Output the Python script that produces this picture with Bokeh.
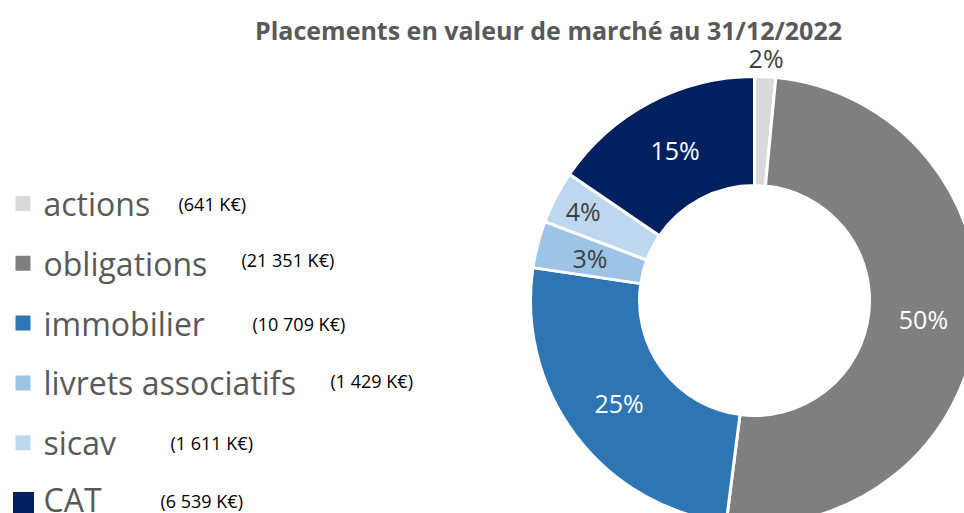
import numpy as np
from bokeh.plotting import figure
from bokeh.models import Range1d, ColumnDataSource
from bokeh.core.properties import value
from bokeh.embed import file_html
from bokeh.resources import INLINE

# ---- data ----
categories = ["actions", "obligations", "immobilier", "livrets associatifs", "sicav", "CAT"]
values_keur = [641, 21351, 10709, 1429, 1611, 6539]
colors = ["#D9D9D9", "#7F7F7F", "#2E75B6", "#9DC3E6", "#BDD7EE", "#002060"]
pct_label_colors = ["#404040", "#FFFFFF", "#FFFFFF", "#404040", "#404040", "#FFFFFF"]
title = "Placements en valeur de marché au 31/12/2022"

FONT = "Open Sans"

# ---- layout (picture pixel coordinates, y downward -> negated) ----
W, H = 964, 513
p = figure(width=W, height=H, output_backend="svg", toolbar_location=None,
           x_range=Range1d(0, W), y_range=Range1d(-H, 0),
           min_border=0, outline_line_color=None)
p.axis.visible = False
p.grid.visible = False
p.background_fill_color = "white"
p.border_fill_color = "white"

cx, cy = 754, -300
r_in, r_out = 115, 224

vals = np.array(values_keur, dtype=float)
frac = vals / vals.sum()
cum = np.concatenate([[0], np.cumsum(frac)])
start = np.pi / 2 - 2 * np.pi * cum[:-1]
end = np.pi / 2 - 2 * np.pi * cum[1:]

src = ColumnDataSource(dict(start=start, end=end, color=colors))
p.annular_wedge(x=cx, y=cy, inner_radius=r_in, outer_radius=r_out,
                start_angle="start", end_angle="end", direction="clock",
                fill_color="color", line_color="white", line_width=3, source=src)

# percentage labels
mid = (start + end) / 2
lab_r = [243, 170, 170, 170, 193, 170]
lx = [cx + r * np.cos(a) for r, a in zip(lab_r, mid)]
ly = [cy + r * np.sin(a) for r, a in zip(lab_r, mid)]
pct_txt = [f"{round(f * 100):.0f}%" for f in frac]
p.text(x=lx, y=ly, text=pct_txt, text_color=pct_label_colors,
       text_font=value(FONT), text_font_size="25px",
       text_align="center", text_baseline="middle")

# title
p.text(x=[548], y=[-29], text=[title], text_color="#595959",
       text_font=value(FONT), text_font_size="25px", text_font_style="bold",
       text_align="center", text_baseline="middle")

# legend
n = len(categories)
leg_y = [-(203 + 59.8 * i) for i in range(n)]
marker_sizes = [15, 15, 15, 15, 15, 21]
p.scatter(x=[22.5] * (n - 1) + [23], y=leg_y, marker="square", size=marker_sizes,
          fill_color=colors, line_color=None)
text_y = leg_y[:-1] + [leg_y[-1] + 3]
p.text(x=[43] * n, y=text_y, text=categories, text_color="#595959",
       text_font=value(FONT), text_font_size="32px",
       text_align="left", text_baseline="middle")

val_txt = [f"({v:,} K€)".replace(",", " ") for v in values_keur]
val_x = [178, 241, 252, 330, 170, 160]
val_y = [-203, -259, -323, -380, -442, -500]
p.text(x=val_x, y=val_y, text=val_txt, text_color="#000000",
       text_font=value(FONT), text_font_size="18px",
       text_align="left", text_baseline="middle")

open("out.html", "w").write(file_html(p, INLINE))
